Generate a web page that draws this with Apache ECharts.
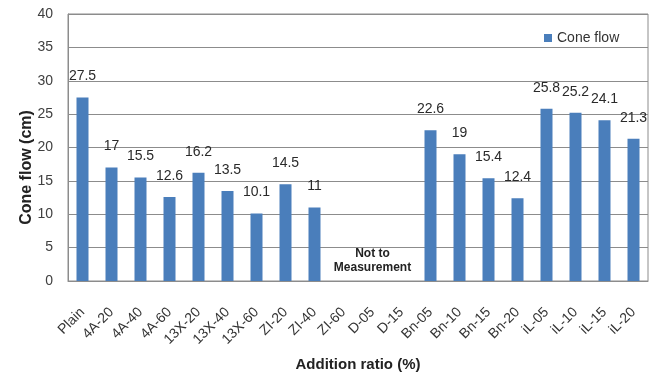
<!DOCTYPE html>
<html>
<head>
<meta charset="utf-8">
<script src="https://cdn.jsdelivr.net/npm/echarts@6/dist/echarts.min.js"></script>
<style>
  html, body { margin: 0; padding: 0; background: #ffffff; }
  #chart { width: 658px; height: 377px; }
</style>
</head>
<body>
<div id="chart"></div>
<script>
// Mix designations along the x axis
const categories = ['Plain', '4A-20', '4A-40', '4A-60', '13X-20', '13X-40', '13X-60',
  'ZI-20', 'ZI-40', 'ZI-60', 'D-05', 'D-15', 'Bn-05', 'Bn-10', 'Bn-15', 'Bn-20',
  'iL-05', 'iL-10', 'iL-15', 'iL-20'];

// Cone flow in cm; null where no measurement was possible
const coneFlow = [27.5, 17, 15.5, 12.6, 16.2, 13.5, 10.1, 14.5, 11, null, null, null,
  22.6, 19, 15.4, 12.4, 25.8, 25.2, 24.1, 21.3];

// Value axis ticks
const yTicks = { min: 0, max: 40, interval: 5 };

// Note placed over the unmeasured group
const noteText = 'Not to\nMeasurement';
const noteAt = ['D-05', 3.1];

const FONT = '"Liberation Sans", Arial, sans-serif';
const GRID_GRAY = '#8c8c8c';

const chart = echarts.init(document.getElementById('chart'));
chart.setOption({
  animation: false,
  backgroundColor: '#ffffff',
  textStyle: { fontFamily: FONT },
  grid: {
    left: 68, right: 10, top: 14, bottom: 90,
    show: true, borderColor: GRID_GRAY, borderWidth: 1
  },
  legend: {
    data: ['Cone flow'],
    left: 539, top: 26,
    icon: 'rect', itemWidth: 8, itemHeight: 8, itemGap: 4,
    textStyle: { fontSize: 14, color: '#333333', fontFamily: FONT }
  },
  xAxis: {
    type: 'category',
    data: categories,
    name: 'Addition ratio (%)',
    nameLocation: 'middle',
    nameGap: 76,
    nameMoveOverlap: false,
    nameTextStyle: { fontSize: 15, fontWeight: 'bold', color: '#222222', fontFamily: FONT },
    axisLine: { lineStyle: { color: GRID_GRAY } },
    axisTick: { show: false },
    axisLabel: { rotate: 45, fontSize: 14, color: '#333333', margin: 29, padding: [8, 0, 0, 0], interval: 0 }
  },
  yAxis: {
    type: 'value',
    min: yTicks.min, max: yTicks.max, interval: yTicks.interval,
    name: 'Cone flow (cm)',
    nameLocation: 'middle',
    nameGap: 33,
    nameMoveOverlap: false,
    nameTextStyle: { fontSize: 16, fontWeight: 'bold', color: '#222222', fontFamily: FONT, padding: [0, 40, 0, 0] },
    axisLine: { show: true, lineStyle: { color: GRID_GRAY } },
    axisTick: { show: false },
    axisLabel: { fontSize: 14, color: '#404040', margin: 15 },
    splitLine: { lineStyle: { color: GRID_GRAY, width: 1 } }
  },
  series: [{
    name: 'Cone flow',
    type: 'bar',
    data: coneFlow,
    barWidth: 12,
    itemStyle: { color: '#4a7ebb' },
    label: {
      show: true, position: 'top', distance: 14,
      fontSize: 14, color: '#2a2a2a', fontFamily: FONT
    },
    markPoint: {
      symbol: 'rect', symbolSize: 0,
      label: {
        show: true, position: 'inside', formatter: noteText,
        fontSize: 12, fontWeight: 'bold', color: '#222222', lineHeight: 14, fontFamily: FONT
      },
      data: [{ coord: noteAt }]
    }
  }]
});
</script>
</body>
</html>
